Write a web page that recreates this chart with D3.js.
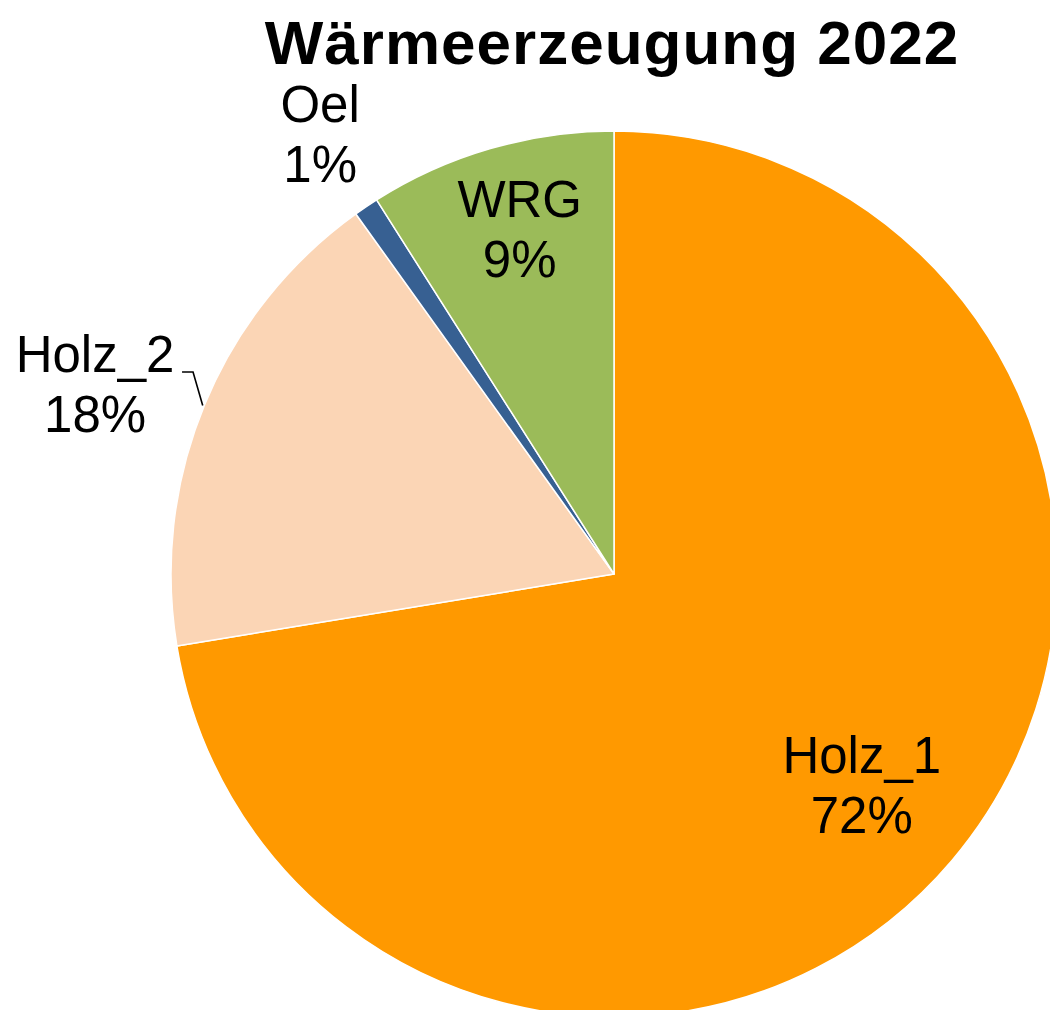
<!DOCTYPE html>
<html>
<head>
<meta charset="utf-8">
<script src="https://cdn.jsdelivr.net/npm/d3@7"></script>
<style>
  html, body { margin: 0; padding: 0; background: #ffffff; }
  svg { display: block; }
  text { font-family: "Liberation Sans", Arial, sans-serif; }
</style>
</head>
<body>
<svg id="chart" width="1050" height="1010"></svg>
<script>
// ---- data ----
const title = "Wärmeerzeugung 2022";
const categories = ["Holz_1", "Holz_2", "Oel", "WRG"];
const values = [72.4, 17.7, 0.9, 9.0];
const colors = ["#FF9900", "#FBD5B5", "#376092", "#9BBB59"];

// ---- layout ----
const cx = 614, cy = 574, R = 443;
const svg = d3.select("#chart");

svg.append("text")
  .attr("x", 612).attr("y", 64)
  .attr("text-anchor", "middle")
  .attr("font-size", 62).attr("font-weight", "bold")
  .attr("letter-spacing", 1)
  .attr("fill", "#000")
  .text(title);

const data = categories.map((c, i) => ({ name: c, value: values[i], color: colors[i] }));
const total = d3.sum(values);
const pie = d3.pie().sort(null).value(d => d.value);
const arcs = pie(data);
const arc = d3.arc().innerRadius(0).outerRadius(R);

const g = svg.append("g").attr("transform", `translate(${cx},${cy})`);
g.selectAll("path.slice").data(arcs).join("path")
  .attr("class", "slice")
  .attr("d", arc)
  .attr("fill", d => d.data.color)
  .attr("stroke", "#ffffff")
  .attr("stroke-width", 1.5)
  .attr("stroke-linejoin", "round");

// label placement (radius of label centre from pie centre)
const labelRadius = { "Holz_1": 325, "Holz_2": 553, "Oel": 530, "WRG": 359 };
const angleShift = { "Holz_1": 0, "Holz_2": -0.04, "Oel": 0.006, "WRG": 0.017 };
const lineGap = 60, fs = 51;

arcs.forEach(d => {
  const name = d.data.name;
  const a = (d.startAngle + d.endAngle) / 2 + angleShift[name];
  const r = labelRadius[name];
  const lx = Math.sin(a) * r, ly = -Math.cos(a) * r;
  const pct = Math.round(d.data.value / total * 100) + "%";
  const t = g.append("text")
    .attr("text-anchor", "middle")
    .attr("font-size", fs)
    .attr("fill", "#000");
  t.append("tspan").attr("x", lx).attr("y", ly - 11).text(name);
  t.append("tspan").attr("x", lx).attr("y", ly - 11 + lineGap).text(pct);

  if (name === "Holz_2") {
    const am = (d.startAngle + d.endAngle) / 2;
    const ex = Math.sin(am) * R, ey = -Math.cos(am) * R;
    const yLine = ly - 11;
    const x0 = lx + 87;
    g.append("polyline")
      .attr("points", [[x0, yLine], [x0 + 11, yLine], [ex - 2, ey + 1]].map(p => p.join(",")).join(" "))
      .attr("fill", "none")
      .attr("stroke", "#000")
      .attr("stroke-width", 1.6);
  }
});
</script>
</body>
</html>
